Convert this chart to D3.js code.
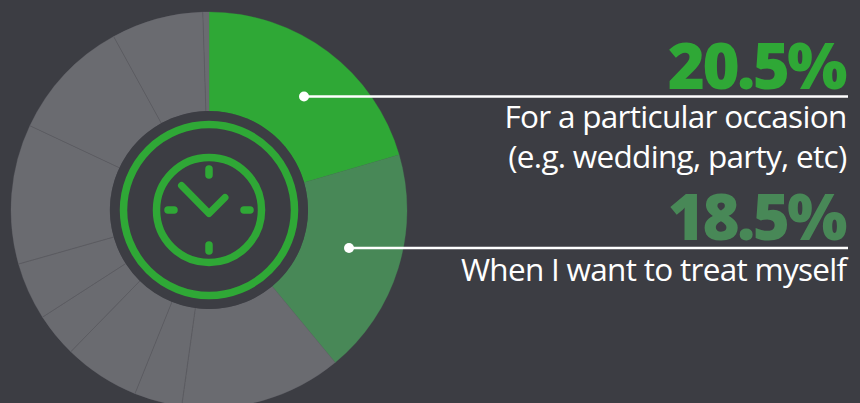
<!DOCTYPE html>
<html>
<head>
<meta charset="utf-8">
<style>
  html, body { margin: 0; padding: 0; background: #3c3d43; overflow: hidden; }
  svg { display: block; }
  text { font-family: "Open Sans", sans-serif; }
</style>
<script src="https://cdn.jsdelivr.net/npm/d3@7/dist/d3.min.js"></script>
</head>
<body>
<svg id="chart" width="860" height="403"></svg>
<script>
// Share of respondents per occasion, clockwise from twelve o'clock
const shareValues = [20.5, 18.5, 13.2, 3.9, 6.2, 3.6, 4.7, 11.4, 10, 7.5, 0.5];
const sliceColors = ["#2fa836", "#488857"];
const otherColor = "#6a6b70";

// Callouts for the two highlighted slices
const calloutIndexes = [0, 1];
const calloutLabels = [
  ["For a particular occasion", "(e.g. wedding, party, etc)"],
  ["When I want to treat myself"]
];

const background = "#3c3d43";
const cx = 209, cy = 210, outerR = 198, innerR = 99;
const svg = d3.select("#chart");

svg.append("rect").attr("width", 860).attr("height", 403).attr("fill", background);

const pie = d3.pie().sort(null).value(d => d)(shareValues);
const arc = d3.arc().innerRadius(innerR).outerRadius(outerR);

const plot = svg.append("g").attr("transform", `translate(${cx},${cy})`);
plot.selectAll("path.slice")
  .data(pie)
  .join("path")
  .attr("class", "slice")
  .attr("d", arc)
  .attr("fill", (d, i) => sliceColors[i] || otherColor)
  .attr("stroke", (d, i) => sliceColors[i] || otherColor)
  .attr("stroke-width", 0.3);

// Hairlines between the grey slices
plot.selectAll("line.divider")
  .data(pie.slice(3))
  .join("line")
  .attr("class", "divider")
  .attr("x1", d => innerR * Math.sin(d.startAngle))
  .attr("y1", d => -innerR * Math.cos(d.startAngle))
  .attr("x2", d => outerR * Math.sin(d.startAngle))
  .attr("y2", d => -outerR * Math.cos(d.startAngle))
  .attr("stroke", "#57585d")
  .attr("stroke-width", 0.6);

// Central clock badge
const green = sliceColors[0];
plot.append("circle").attr("r", innerR).attr("fill", background);
plot.append("circle").attr("r", 85.5).attr("fill", "none").attr("stroke", green).attr("stroke-width", 7.5);
plot.append("circle").attr("r", 52.5).attr("fill", "none").attr("stroke", green).attr("stroke-width", 7.5);

const tickMarks = [[0, -41, 0, -35], [0, 35, 0, 41], [-41, 0, -35, 0], [35, 0, 41, 0]];
plot.selectAll("line.hour")
  .data(tickMarks)
  .join("line")
  .attr("class", "hour")
  .attr("x1", d => d[0]).attr("y1", d => d[1])
  .attr("x2", d => d[2]).attr("y2", d => d[3])
  .attr("stroke", green).attr("stroke-width", 7.5).attr("stroke-linecap", "round");

plot.append("path")
  .attr("d", d3.line()([[-27.5, -24.5], [0, 3.5], [16, -12.5]]))
  .attr("fill", "none").attr("stroke", green).attr("stroke-width", 7)
  .attr("stroke-linecap", "round").attr("stroke-linejoin", "round");

// Callout rows: big percentage, rule with a dot inside the slice, description
const rightEdge = 848;
const rows = [
  { ruleY: 96.5, dotX: 304, valueY: 89, textY: [128, 168] },
  { ruleY: 248, dotX: 349, valueY: 240, textY: [281] }
];

calloutIndexes.forEach((sliceIndex, i) => {
  const row = rows[i];
  const g = svg.append("g");
  g.append("text")
    .attr("x", rightEdge - 3).attr("y", row.valueY)
    .attr("text-anchor", "end")
    .attr("font-size", 63.5)
    .attr("font-weight", 800)
    .attr("letter-spacing", -2.6)
    .attr("fill", sliceColors[sliceIndex])
    .text(shareValues[sliceIndex].toFixed(1) + "%");
  g.append("line")
    .attr("x1", row.dotX).attr("x2", rightEdge)
    .attr("y1", row.ruleY).attr("y2", row.ruleY)
    .attr("stroke", "#ffffff").attr("stroke-width", 2.5);
  g.append("circle")
    .attr("cx", row.dotX).attr("cy", row.ruleY).attr("r", 5)
    .attr("fill", "#ffffff");
  calloutLabels[i].forEach((line, j) => {
    g.append("text")
      .attr("x", rightEdge - 1.5).attr("y", row.textY[j])
      .attr("text-anchor", "end")
      .attr("font-size", 31.5)
      .attr("letter-spacing", -0.7)
      .attr("fill", "#ffffff")
      .text(line);
  });
});
</script>
</body>
</html>
